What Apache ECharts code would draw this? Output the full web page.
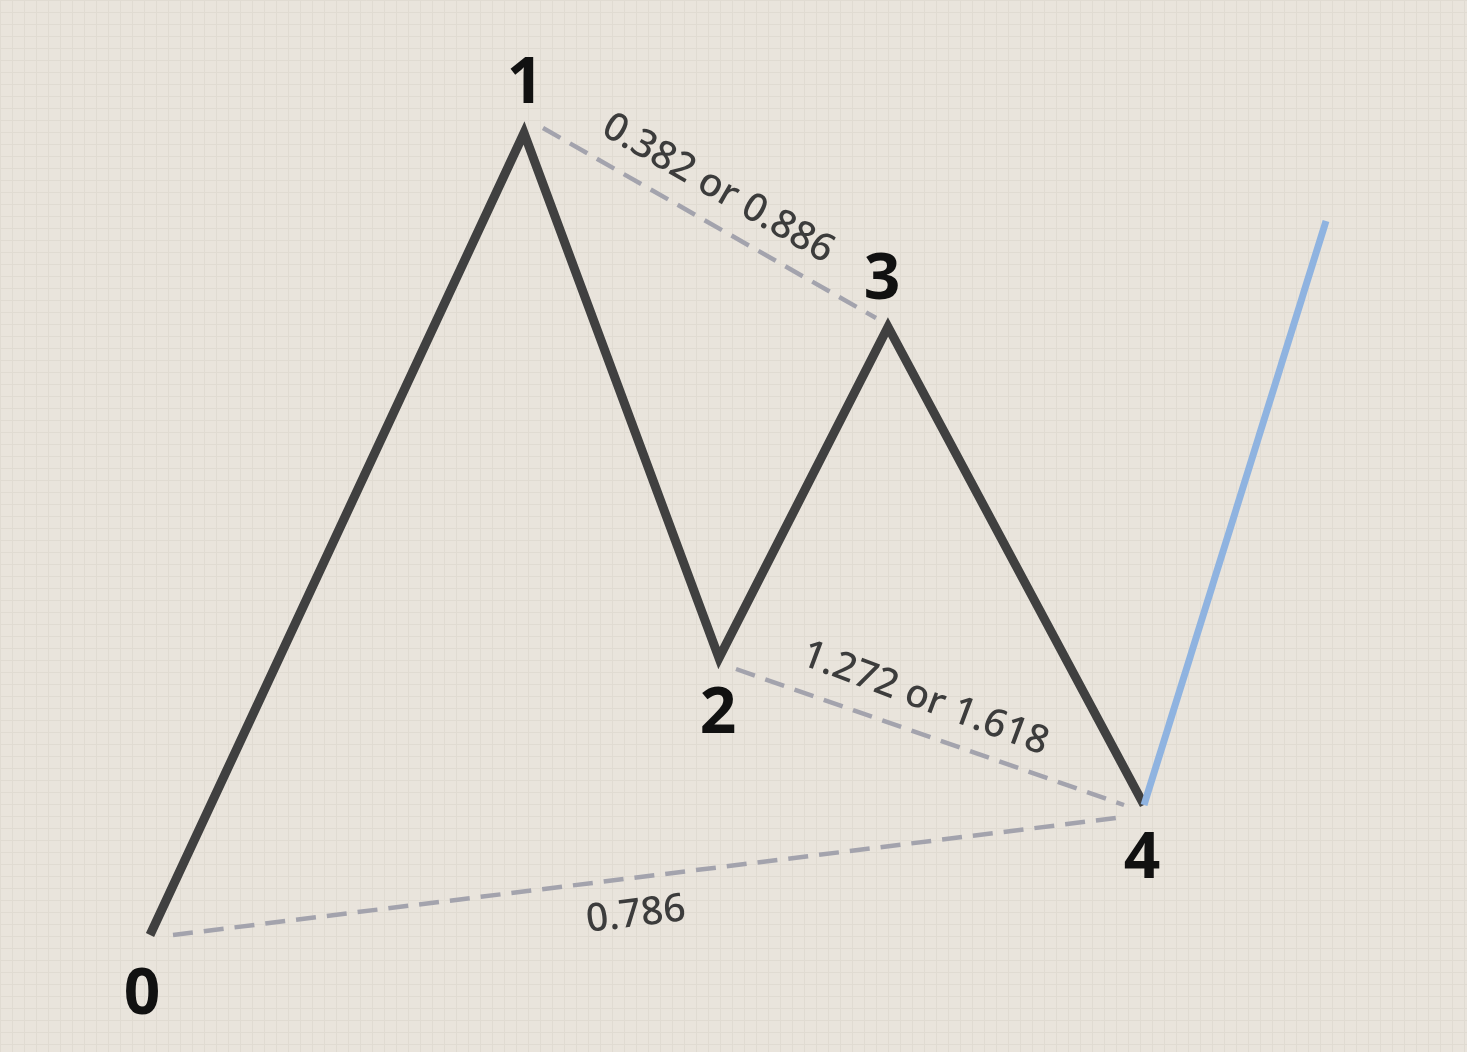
<!DOCTYPE html>
<html>
<head>
<meta charset="utf-8">
<title>Wave 0-1-2-3-4</title>
<script src="https://cdn.jsdelivr.net/npm/echarts@6/dist/echarts.min.js"></script>
<style>
  html, body { margin: 0; padding: 0; background: #e9e4dc; }
  #chart { width: 1467px; height: 1052px; }
</style>
</head>
<body>
<div id="chart"></div>
<script>
// pivot points, in picture units (x to the right, y downward)
var waveX = [150, 524, 719, 888, 1144];
var waveY = [935, 133, 658, 327, 805];
var waveNames = ['0', '1', '2', '3', '4'];

// the projected leg after point 4
var legX = [1144, 1326];
var legY = [805, 221];

// dashed ratio guides
var guide13X = [543, 876], guide13Y = [128, 318];
var guide24X = [736, 1124], guide24Y = [669, 805];
var guide04X = [173, 1124], guide04Y = [935, 817];

// ratio captions
var ratioText = ['0.382 or 0.886', '1.272 or 1.618', '0.786'];
var ratioX = [718, 925, 636];
var ratioY = [189, 699, 915];
var ratioAngle = [-30, -20.5, 7];

function pairs(xs, ys) {
    return xs.map(function (x, i) { return [x, ys[i]]; });
}

var chart = echarts.init(document.getElementById('chart'));

// label placement for each pivot
var labelPos = ['bottom', 'top', 'bottom', 'top', 'bottom'];
var labelDist = [29, 16, 25, 14, 23];
var labelShift = [-8, 1, -1, -6, -2];

var guideStyle = { color: '#a3a3ad', width: 4.5, type: [20, 11] };

var option = {
    backgroundColor: '#e9e4dc',
    animation: false,
    grid: { left: 0, right: 0, top: 0, bottom: 0 },
    xAxis: {
        type: 'value', min: 0, max: 1467, interval: 12,
        axisLine: { show: false }, axisTick: { show: false }, axisLabel: { show: false },
        splitLine: { show: true, lineStyle: { color: '#e0dbd2', width: 1 } }
    },
    yAxis: {
        type: 'value', min: 0, max: 1052, interval: 12, inverse: true,
        axisLine: { show: false }, axisTick: { show: false }, axisLabel: { show: false },
        splitLine: { show: true, lineStyle: { color: '#e0dbd2', width: 1 } }
    },
    series: [
        {
            name: '0.382 or 0.886', type: 'line', data: pairs(guide13X, guide13Y),
            symbol: 'none', lineStyle: guideStyle
        },
        {
            name: '1.272 or 1.618', type: 'line', data: pairs(guide24X, guide24Y),
            symbol: 'none', lineStyle: guideStyle
        },
        {
            name: '0.786', type: 'line', data: pairs(guide04X, guide04Y),
            symbol: 'none', lineStyle: guideStyle
        },
        {
            name: 'wave', type: 'line', symbol: 'none',
            lineStyle: { color: '#404040', width: 9, join: 'miter', cap: 'butt' },
            data: pairs(waveX, waveY)
        },
        {
            name: 'projection', type: 'line', symbol: 'none',
            lineStyle: { color: '#8fb3e0', width: 7, cap: 'butt' },
            data: pairs(legX, legY)
        },
        {
            name: 'pivots', type: 'scatter', symbolSize: 0, silent: true,
            itemStyle: { opacity: 1 },
            data: waveX.map(function (x, i) {
                return {
                    value: [x, waveY[i]],
                    label: {
                        show: true,
                        formatter: waveNames[i],
                        position: labelPos[i],
                        distance: labelDist[i],
                        offset: [labelShift[i], 0],
                        fontFamily: 'Noto Sans',
                        fontWeight: 'bold',
                        fontSize: 64,
                        lineHeight: 64,
                        color: '#111111'
                    }
                };
            })
        },
        {
            name: 'ratios', type: 'scatter', symbolSize: 0, silent: true,
            itemStyle: { opacity: 1 },
            data: ratioX.map(function (x, i) {
                return {
                    value: [x, ratioY[i]],
                    label: {
                        show: true,
                        position: 'inside',
                        formatter: ratioText[i],
                        rotate: ratioAngle[i],
                        fontFamily: 'Noto Sans',
                        fontWeight: 500,
                        fontSize: 39,
                        color: '#3c3c3c'
                    }
                };
            })
        }
    ]
};

chart.setOption(option);
</script>
</body>
</html>
